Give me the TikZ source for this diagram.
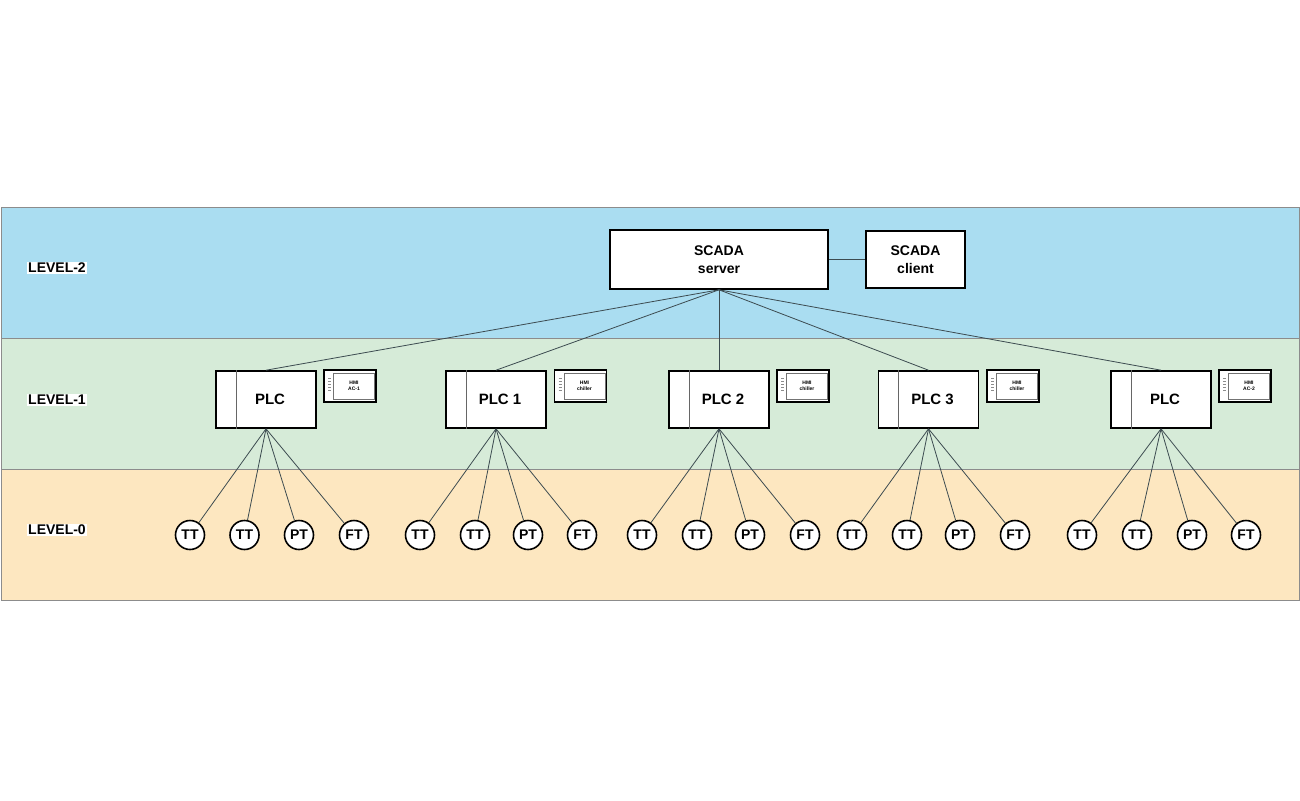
\documentclass[tikz,border=0pt]{standalone}
\usepackage{fontspec}
\setmainfont{Liberation Sans}
\definecolor{bandblue}{RGB}{170,221,241}
\definecolor{bandgreen}{RGB}{214,235,216}
\definecolor{bandorange}{RGB}{253,231,192}
\definecolor{wire}{RGB}{60,75,80}
\tikzset{
  band/.style={draw=black!45, line width=0.8pt},
  lvl/.style={fill=white, inner sep=1pt, font=\bfseries\fontsize{14}{15}\selectfont},
  box/.style={draw=black, fill=white, line width=1.6pt, inner sep=0pt, align=center, font=\bfseries\fontsize{14}{18}\selectfont},
  plcbox/.style={draw=black, fill=white, line width=1.6pt, minimum width=100pt, minimum height=57pt, inner sep=0pt, font=\bfseries\fontsize{15}{16}\selectfont},
  hmibox/.style={draw=black, fill=white, line width=1.5pt, minimum width=52pt, minimum height=32pt, inner sep=0pt},
  sensor/.style={circle, draw=black, fill=white, line width=1.6pt, minimum size=29pt, inner sep=0pt, font=\bfseries\fontsize{14}{14}\selectfont},
  wireline/.style={draw=wire, line width=0.8pt},
}
\begin{document}
\begin{tikzpicture}[x=1pt,y=-1pt]
\useasboundingbox (0,0) rectangle (1300,800);
% bands
\fill[white] (0,0) rectangle (1300,800);
\draw[band, fill=bandblue] (1,207) rectangle (1299,338);
\draw[band, fill=bandgreen] (1,338) rectangle (1299,469);
\draw[band, fill=bandorange] (1,469) rectangle (1299,600);
\node[lvl, anchor=west] (L2) at (27,268) {LEVEL-2};
\node[lvl, anchor=west] (L1) at (27,400) {LEVEL-1};
\node[lvl, anchor=west] (L0) at (27,530) {LEVEL-0};

% level 2
\node[box, minimum width=218pt, minimum height=59pt] (srv) at (719,259.5) {SCADA\\server};
\node[box, minimum width=99pt, minimum height=57pt] (cli) at (915.5,259.5) {SCADA\\client};
\draw[wireline] (srv.east) -- (cli.west);

% level 1 PLCs and HMIs
\foreach \name/\x/\lab/\hx/\hA/\hB in {p1/266/PLC/350/HMI/AC-1, p2/496/PLC 1/580.5/HMI/chiller, p3/719/PLC 2/803/HMI/chiller, p4/928.5/PLC 3/1013/HMI/chiller, p5/1161/PLC/1245/HMI/AC-2}{
  \node[plcbox] (\name) at (\x,399.5) {\hspace*{8pt}\lab};
  \draw[black!60, line width=1pt] ([xshift=21pt]\name.north west) -- ([xshift=21pt]\name.south west);
  \node[hmibox] (h\name) at (\hx,386) {};
  \node[draw=black!55, line width=0.6pt, minimum width=41pt, minimum height=26pt, inner sep=0pt, align=center,
        font=\bfseries\fontsize{5}{6}\selectfont] (hi\name) at (\hx+4,386) {\hA\\\hB};
  \foreach \k in {-8,-5,-2,1,4}{
    \draw[black!45, line width=0.5pt] (\hx-22,386+\k) -- (\hx-19,386+\k);
  }
  \draw[wireline] (srv.south) -- (\name.north);
}

% level 0 sensors
\foreach \g/\p/\a/\b/\c/\d in {1/p1/190/244.5/299/354, 2/p2/420/475/528/582, 3/p3/642/697/750/805, 4/p4/852/907/960/1015, 5/p5/1082/1137/1192/1246}{
  \node[sensor] (s\g a) at (\a,535) {TT};
  \node[sensor] (s\g b) at (\b,535) {TT};
  \node[sensor] (s\g c) at (\c,535) {PT};
  \node[sensor] (s\g d) at (\d,535) {FT};
  \foreach \s in {a,b,c,d}{
    \draw[wireline] (\p.south) -- (s\g\s);
  }
}
\end{tikzpicture}
\end{document}
